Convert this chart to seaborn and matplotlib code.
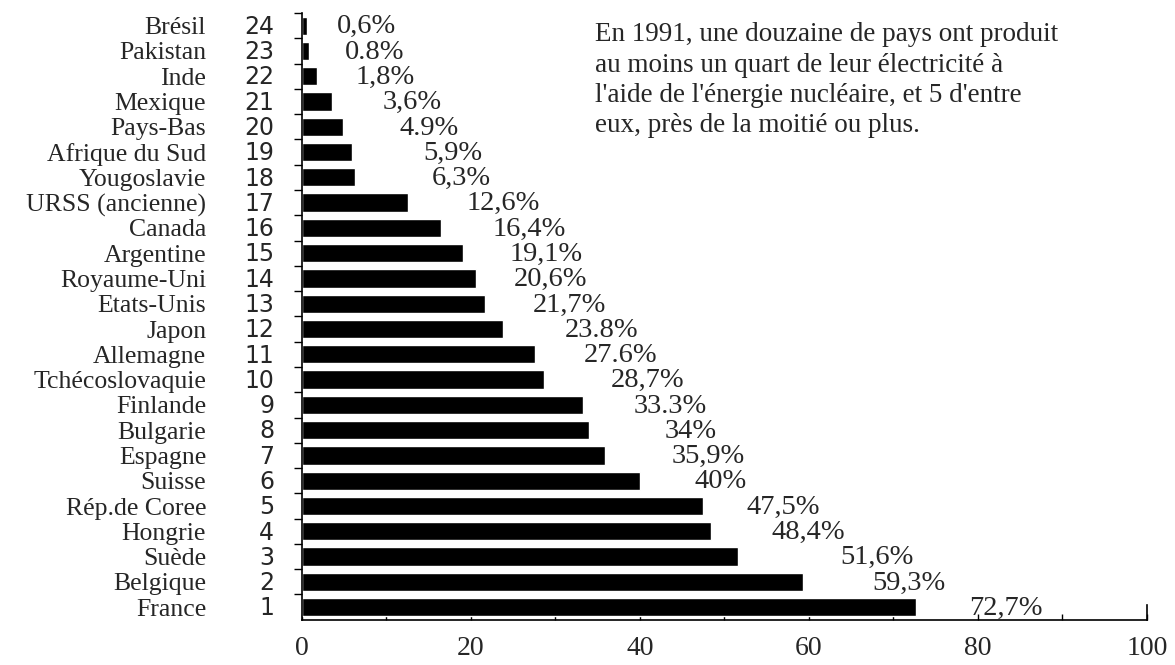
import numpy as np
import matplotlib
matplotlib.use("Agg")
import matplotlib.pyplot as plt
import seaborn as sns

# Part de l'énergie nucléaire dans la production d'électricité, 1991 (rang 1 = France)
ranks = list(range(1, 25))
countries = ["France", "Belgique", "Suède", "Hongrie", "Rép.de Coree", "Suisse",
             "Espagne", "Bulgarie", "Finlande", "Tchécoslovaquie", "Allemagne",
             "Japon", "Etats-Unis", "Royaume-Uni", "Argentine", "Canada",
             "URSS (ancienne)", "Yougoslavie", "Afrique du Sud", "Pays-Bas",
             "Mexique", "Inde", "Pakistan", "Brésil"]
shares = [72.7, 59.3, 51.6, 48.4, 47.5, 40.0, 35.9, 34.0, 33.3, 28.7, 27.6,
          23.8, 21.7, 20.6, 19.1, 16.4, 12.6, 6.3, 5.9, 4.9, 3.6, 1.8, 0.8, 0.6]
share_labels = ["72,7%", "59,3%", "51,6%", "48,4%", "47,5%", "40%", "35,9%",
                "34%", "33.3%", "28,7%", "27.6%", "23.8%", "21,7%", "20,6%",
                "19,1%", "16,4%", "12,6%", "6,3%", "5,9%", "4.9%", "3,6%",
                "1,8%", "0.8%", "0,6%"]
# where each percentage starts (x, in %), labels form a diagonal in the original
label_x = [79.0, 67.5, 63.7, 55.6, 52.6, 46.5, 43.7, 42.9, 39.2, 36.6, 33.3,
           31.1, 27.3, 25.1, 24.6, 22.5, 19.5, 15.4, 14.4, 11.6, 9.5, 6.3, 5.1, 4.1]

note = ["En 1991, une douzaine de pays ont produit",
        "au moins un quart de leur électricité à",
        "l'aide de l'énergie nucléaire, et 5 d'entre",
        "eux, près de la moitié ou plus."]

sns.set_style("ticks")
plt.rcParams["font.family"] = ["Liberation Serif", "DejaVu Serif"]

fig = plt.figure(figsize=(11.75, 6.65), dpi=100)
ax = fig.add_axes([0.257, 0.068, 0.719, 0.9125])

order = countries[::-1]  # Brésil on top, France at the bottom
sns.barplot(x=shares, y=countries, order=order, orient="h", color="black",
            saturation=1, width=0.72, ax=ax)

ax.set_xlim(0, 100)
ax.set_ylim(23.5, -0.5)
ax.set_xlabel("")
ax.set_ylabel("")

# x axis
ax.set_xticks(np.arange(0, 101, 20))
ax.set_xticklabels([str(v) for v in range(0, 101, 20)],
                   family="Liberation Serif")
ax.set_xticks(np.arange(10, 100, 20), minor=True)
ax.tick_params(axis="x", which="both", direction="in", length=4, width=1,
               color="black", labelsize=20, pad=12)

# y axis: country names as tick labels, little ticks between bars
ax.set_yticks(range(len(order)))
ax.set_yticklabels(order, family="Liberation Serif")
ax.set_yticks(np.arange(-0.5, 23, 1), minor=True)
ax.tick_params(axis="y", which="major", length=0, labelsize=18.5, pad=69)
ax.tick_params(axis="y", which="minor", direction="out", length=6, width=1,
               color="black")

ax.spines["top"].set_visible(False)
ax.spines["right"].set_bounds(22.9, 23.5)
for s in ["left", "bottom", "right"]:
    ax.spines[s].set_color("black")
    ax.spines[s].set_linewidth(1.2)

# rank numbers next to the axis
ytr = ax.get_yaxis_transform()
for i, name in enumerate(order):
    r = ranks[countries.index(name)]
    ax.text(-0.033, i + 0.05, str(r), transform=ytr, ha="right", va="center",
            fontsize=17, family=["DejaVu Sans"])

# percentage labels
for name, lab, lx in zip(countries, share_labels, label_x):
    ax.text(lx, order.index(name) + 0.05, lab, ha="left", va="center",
            fontsize=20.5)

# comment in the upper right
for k, line in enumerate(note):
    fig.text(0.506, 1 - (41 + 30.5 * k) / 665, line, ha="left", va="baseline",
             fontsize=19.5)

fig.savefig("out.png", dpi=100, facecolor="white")
